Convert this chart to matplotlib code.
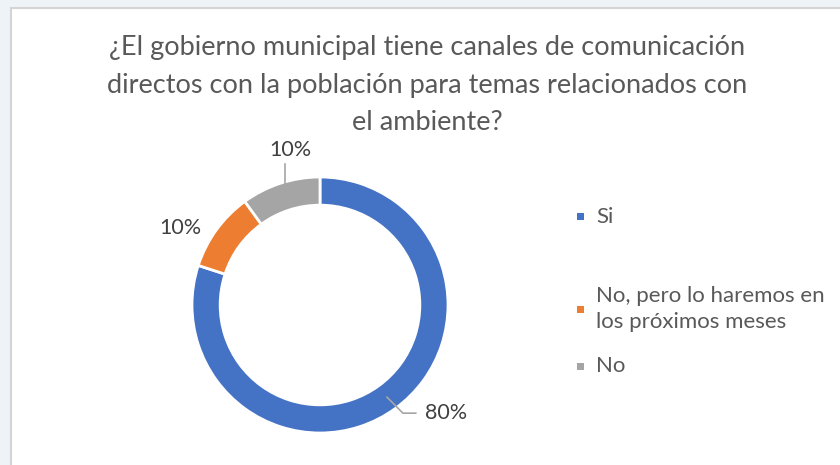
import numpy as np
import matplotlib
matplotlib.use("Agg")
import matplotlib.pyplot as plt
from matplotlib.patches import Rectangle

# Datos del gráfico
categorias = ["Si", "No, pero lo haremos en\nlos próximos meses", "No"]
valores = [80, 10, 10]
etiquetas = ["80%", "10%", "10%"]
colores = ["#4472C4", "#ED7D31", "#A5A5A5"]
titulo = ("¿El gobierno municipal tiene canales de comunicación\n"
          "directos con la población para temas relacionados con\n"
          "el ambiente?")

plt.rcParams['font.family'] = ['Lato', 'DejaVu Sans']

W, H = 840, 465
fig = plt.figure(figsize=(W / 100, H / 100), dpi=100, facecolor="#edf3f7")

# Marco blanco del gráfico
fig.patches.append(Rectangle((11 / W, -0.1), 1.1, (H - 8) / H + 0.1,
                             transform=fig.transFigure, facecolor="white",
                             edgecolor="#d4d4d4", linewidth=1.5, zorder=-5))

# Título
fig.text(427 / W, 1 - 85 / H, titulo, ha="center", va="center",
         fontsize=19.5, color="#595959", linespacing=1.62)

# Dona
cx, cy, R = 320, 305, 128
lim = 1.3
size = 2 * lim * R
ax = fig.add_axes([(cx - size / 2) / W, (H - cy - size / 2) / H, size / W, size / H])

wedges, _ = ax.pie(valores, colors=colores, startangle=90, counterclock=False,
                   radius=1, wedgeprops=dict(width=0.22, edgecolor="white", linewidth=2))
ax.set_xlim(-lim, lim)
ax.set_ylim(-lim, lim)
ax.set_aspect("equal")
ax.axis("off")

lc = "#A6A6A6"
tc = "#404040"
fs = 15.5
for w, lab in zip(wedges, etiquetas):
    ang = np.deg2rad((w.theta1 + w.theta2) / 2)
    ca, sa = np.cos(ang), np.sin(ang)
    if sa < -0.5:
        # etiqueta inferior derecha con línea quebrada
        x0, y0 = 0.89 * ca, 0.89 * sa
        x1, y1 = x0 + 0.125, y0 - 0.125
        x2 = x1 + 0.1
        ax.plot([x0, x1, x2], [y0, y1, y1], color=lc, lw=1.2)
        ax.text(x2 + 0.07, y1, lab, ha="left", va="center", fontsize=fs, color=tc)
    elif sa > 0.9:
        # etiqueta superior con línea vertical
        x0, y0 = 1.0 * ca + 0.035, 0.99 * sa
        ax.plot([x0, x0], [y0, y0 + 0.16], color=lc, lw=1.2)
        ax.text(x0 + 0.04, y0 + 0.19, lab, ha="center", va="bottom", fontsize=fs, color=tc)
    else:
        ax.text(1.0 * ca - 0.12, 1.0 * sa + 0.01, lab, ha="right", va="center",
                fontsize=fs, color=tc)

# Leyenda manual
ley_y = [217, 309, 366]
for cat, col, yy in zip(categorias, colores, ley_y):
    fig.patches.append(Rectangle((577 / W, 1 - (yy + 3.5) / H), 7 / W, 7 / H,
                                 transform=fig.transFigure, facecolor=col,
                                 edgecolor="none", zorder=2))
    fig.text(596 / W, 1 - yy / H, cat, ha="left", va="center", fontsize=16,
             color="#595959", linespacing=1.4)

fig.savefig("out.png", dpi=100, facecolor=fig.get_facecolor())
